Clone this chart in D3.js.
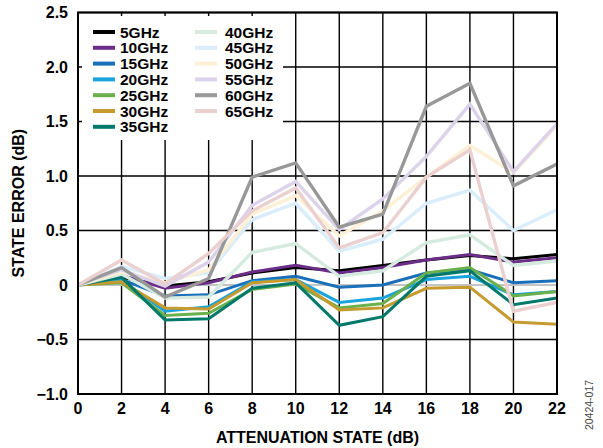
<!DOCTYPE html>
<html><head><meta charset="utf-8">
<script src="https://cdn.jsdelivr.net/npm/d3@7"></script>
<style>
html,body{margin:0;padding:0;background:#fff;}
text{font-family:"Liberation Sans",Arial,sans-serif;font-weight:bold;}
</style></head>
<body><svg id="c" width="603" height="448"></svg>
<script>
const states = [0,2,4,6,8,10,12,14,16,18,20,22];
const seriesNames = ["5GHz","10GHz","15GHz","20GHz","25GHz","30GHz","35GHz","40GHz","45GHz","50GHz","55GHz","60GHz","65GHz"];
const s5  = [0, 0.07, -0.01, 0.03, 0.11, 0.16, 0.13, 0.18, 0.23, 0.27, 0.24, 0.28];
const s10 = [0, 0.09, -0.03, 0.02, 0.12, 0.18, 0.11, 0.16, 0.23, 0.28, 0.21, 0.25];
const s15 = [0, 0.05, -0.10, -0.09, 0.04, 0.08, -0.02, 0.00, 0.11, 0.14, 0.02, 0.04];
const s20 = [0, 0.04, -0.24, -0.20, 0.03, 0.05, -0.16, -0.12, 0.05, 0.08, -0.09, -0.06];
const s25 = [0, 0.02, -0.28, -0.26, -0.04, 0.01, -0.21, -0.17, 0.11, 0.16, -0.10, -0.06];
const s30 = [0, 0.03, -0.21, -0.22, 0.02, 0.05, -0.23, -0.21, -0.03, -0.02, -0.34, -0.36];
const s35 = [0, 0.07, -0.32, -0.31, -0.03, 0.02, -0.37, -0.29, 0.08, 0.13, -0.18, -0.12];
const s40 = [0, 0.10, -0.12, -0.11, 0.30, 0.38, 0.08, 0.13, 0.39, 0.46, 0.18, 0.22];
const s45 = [0, 0.17, 0.06, 0.11, 0.60, 0.75, 0.31, 0.42, 0.75, 0.87, 0.50, 0.69];
const s50 = [0, 0.12, 0.02, 0.14, 0.65, 0.82, 0.45, 0.68, 0.99, 1.28, 1.03, 1.46];
const s55 = [0, 0.14, -0.01, 0.21, 0.73, 0.95, 0.51, 0.79, 1.18, 1.66, 1.04, 1.48];
const s60 = [0, 0.16, -0.11, 0.06, 0.99, 1.12, 0.53, 0.65, 1.64, 1.85, 0.91, 1.11];
const s65 = [0, 0.23, 0.01, 0.29, 0.68, 0.89, 0.34, 0.48, 0.99, 1.24, -0.24, -0.16];
const seriesColors = ["#000000","#6b2d87","#1a6fb9","#1aa3dd","#6ab04c","#c59a2e","#00796b","#d5ebdf","#d9edfb","#fdf0d5","#dcd3ea","#989898","#ebd0d0"];
const xTicks = [0,2,4,6,8,10,12,14,16,18,20,22];
const yTicks = [2.5,2.0,1.5,1.0,0.5,0,-0.5,-1.0];
const yTickLabels = ["2.5","2.0","1.5","1.0","0.5","0","\u22120.5","\u22121.0"];

const allSeries = [s5,s10,s15,s20,s25,s30,s35,s40,s45,s50,s55,s60,s65];

const svg = d3.select("#c");
const L = 78, R = 557, T = 12.5, B = 394;
const x = d3.scaleLinear().domain([0,22]).range([L,R]);
const y = d3.scaleLinear().domain([-1,2.5]).range([B,T]);

// grid
const g = svg.append("g");
g.selectAll(".vg").data(xTicks).enter().append("line")
  .attr("x1",d=>x(d)).attr("x2",d=>x(d)).attr("y1",T).attr("y2",B)
  .attr("stroke","#000").attr("stroke-width",1.4);
g.selectAll(".hg").data(yTicks.filter(v=>v!==0)).enter().append("line")
  .attr("x1",L).attr("x2",R).attr("y1",d=>y(d)).attr("y2",d=>y(d))
  .attr("stroke","#000").attr("stroke-width",1.4);
g.append("line").attr("x1",L).attr("x2",R).attr("y1",y(0)).attr("y2",y(0))
  .attr("stroke","#c4c4c4").attr("stroke-width",2.2);

// legend background
svg.append("rect").attr("x",82).attr("y",16).attr("width",201).attr("height",124).attr("fill","#fff");

// lines
const line = d3.line().x((d,i)=>x(states[i])).y(d=>y(d));
svg.append("g").selectAll("path").data(allSeries).enter().append("path")
  .attr("d",line).attr("fill","none")
  .attr("stroke",(d,i)=>seriesColors[i])
  .attr("stroke-width",(d,i)=> i>=7 ? 3.4 : 3)
  .attr("stroke-linejoin","miter");

// frame
svg.append("rect").attr("x",L).attr("y",T).attr("width",R-L).attr("height",B-T)
  .attr("fill","none").attr("stroke","#000").attr("stroke-width",2);

// axes labels
const fs = "16px";
svg.append("g").selectAll("text").data(yTicks).enter().append("text")
  .attr("x",L-10).attr("y",d=>y(d)).attr("dy","0.35em").attr("text-anchor","end")
  .style("font-size",fs).text((d,i)=>yTickLabels[i]);
svg.append("g").selectAll("text").data(xTicks).enter().append("text")
  .attr("x",d=>x(d)).attr("y",B+8).attr("dy","0.72em").attr("text-anchor","middle")
  .style("font-size",fs).text(d=>String(d));

svg.append("text").attr("x",(L+R)/2).attr("y",443).attr("text-anchor","middle")
  .style("font-size",fs).text("ATTENUATION STATE (dB)");
svg.append("text").attr("transform",`translate(24,${(T+B)/2}) rotate(-90)`).attr("text-anchor","middle")
  .style("font-size",fs).text("STATE ERROR (dB)");
svg.append("text").attr("transform","translate(593,405) rotate(-90)").attr("text-anchor","middle")
  .style("font-size","10.5px").style("font-weight","normal").attr("fill","#444").text("20424-017");

// legend
const leg = svg.append("g");
seriesNames.forEach((n,i)=>{
  const col = i<7 ? 0 : 1;
  const row = i<7 ? i : i-7;
  const lx = col===0 ? 93 : 195;
  const tx = col===0 ? 120 : 225;
  const cy = 32 + row*15.8;
  leg.append("line").attr("x1",lx).attr("x2",lx+22).attr("y1",cy).attr("y2",cy)
    .attr("stroke",seriesColors[i]).attr("stroke-width",4);
  leg.append("text").attr("x",tx).attr("y",cy).attr("dy","0.36em")
    .style("font-size","15.5px").text(n);
});
</script></body></html>
